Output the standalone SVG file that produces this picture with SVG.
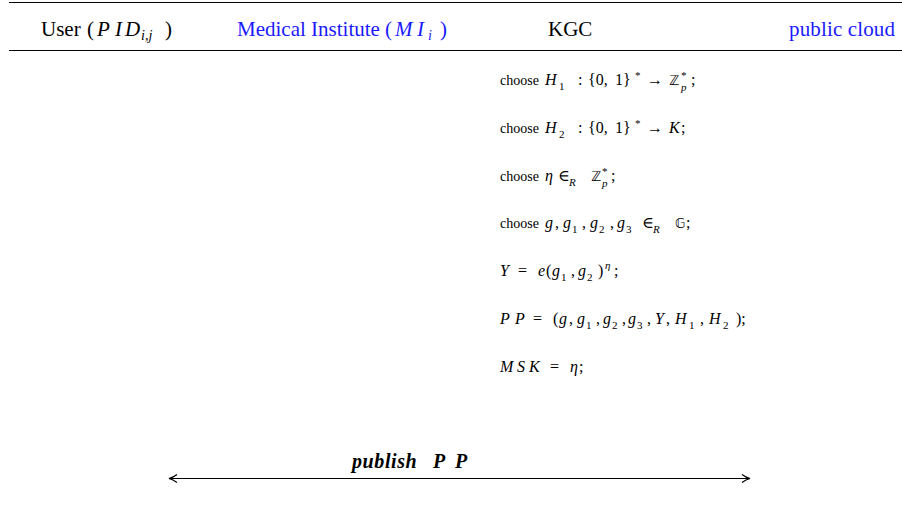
<svg xmlns="http://www.w3.org/2000/svg" width="902" height="531" viewBox="0 0 902 531">
  <style>
    text { font-family: "Liberation Serif", "Times New Roman", Times, "DejaVu Serif", serif; fill: #000; }
    .hd { font-size: 21px; }
    .blue { fill: #1a1aff; }
    .it { font-style: italic; }
    .t { font-size: 14px; }
    .m { font-size: 16px; font-style: italic; }
    .r { font-style: normal; }
    .sub { font-size: 11px; }
    .bb { font-family: "DejaVu Sans", "DejaVu Serif", serif; font-style: normal; font-size: 13.5px; }
    .rule { stroke: #000; stroke-width: 1.2; fill: none; }
    .conn { stroke: #000; stroke-width: 1.2; fill: none; }
    .lbl { font-size: 20px; font-style: italic; font-weight: bold; }
  </style>
  <defs>
    <marker id="chev" viewBox="0 0 10 10" refX="9" refY="5" markerWidth="10" markerHeight="10" markerUnits="userSpaceOnUse" orient="auto-start-reverse">
      <path d="M1,1 Q5,4 9,5 Q5,6 1,9" fill="none" stroke="#000" stroke-width="1.2"/>
    </marker>
  </defs>
  <rect width="902" height="531" fill="#fff"/>

  <!-- table rules -->
  <line class="rule" x1="9" y1="2.5" x2="902" y2="2.5"/>
  <line class="rule" x1="9" y1="50.5" x2="902" y2="50.5"/>

  <!-- column headers -->
  <g id="user">
    <text class="hd" y="36"><tspan x="41">User</tspan><tspan x="87">(</tspan><tspan class="it" x="97">P</tspan><tspan class="it" x="115">I</tspan><tspan class="it" x="125">D</tspan><tspan class="it" x="141" y="40" font-size="14px">i,j</tspan><tspan x="165" y="36">)</tspan></text>
  </g>
  <g id="medical-institute">
    <text class="hd blue" y="36"><tspan x="237">Medical Institute</tspan><tspan x="385">(</tspan><tspan class="it" x="395">M</tspan><tspan class="it" x="417">I</tspan><tspan class="it" x="428" y="40" font-size="14px">i</tspan><tspan x="440" y="36">)</tspan></text>
  </g>
  <g id="kgc">
    <text class="hd" x="548" y="36">KGC</text>

    <!-- setup steps -->
    <text class="t" x="500" y="85">choose</text>
    <text class="m" y="85"><tspan x="545">H</tspan><tspan class="r sub" x="559" y="90">1</tspan><tspan class="r" x="578" y="85">:</tspan><tspan class="r" x="588">{0,</tspan><tspan class="r" x="615">1}</tspan><tspan class="r sub" x="635" y="79">*</tspan><tspan class="r" x="647" y="85">→</tspan><tspan class="bb" x="669">ℤ</tspan><tspan class="r sub" x="681" y="79">*</tspan><tspan class="sub" x="681" y="91">p</tspan><tspan class="r" x="691" y="85">;</tspan></text>

    <text class="t" x="500" y="133">choose</text>
    <text class="m" y="133"><tspan x="545">H</tspan><tspan class="r sub" x="559" y="138">2</tspan><tspan class="r" x="578" y="133">:</tspan><tspan class="r" x="588">{0,</tspan><tspan class="r" x="615">1}</tspan><tspan class="r sub" x="635" y="127">*</tspan><tspan class="r" x="647" y="133">→</tspan><tspan x="669">K</tspan><tspan class="r" x="681">;</tspan></text>

    <text class="t" x="500" y="181">choose</text>
    <text class="m" y="181"><tspan x="545">η</tspan><tspan class="r" x="558">∈</tspan><tspan class="sub" x="569" y="186">R</tspan><tspan class="bb" x="591" y="181">ℤ</tspan><tspan class="r sub" x="602" y="175">*</tspan><tspan class="sub" x="602" y="187">p</tspan><tspan class="r" x="611" y="181">;</tspan></text>

    <text class="t" x="500" y="228">choose</text>
    <text class="m" y="228"><tspan x="545">g</tspan><tspan class="r" x="555">,</tspan><tspan x="563">g</tspan><tspan class="r sub" x="572" y="233">1</tspan><tspan class="r" x="582" y="228">,</tspan><tspan x="590">g</tspan><tspan class="r sub" x="599" y="233">2</tspan><tspan class="r" x="610" y="228">,</tspan><tspan x="617">g</tspan><tspan class="r sub" x="626" y="233">3</tspan><tspan class="r" x="642" y="228">∈</tspan><tspan class="sub" x="653" y="233">R</tspan><tspan class="bb" x="675" y="228">𝔾</tspan><tspan class="r" x="686">;</tspan></text>

    <text class="m" y="276"><tspan x="500">Y</tspan><tspan class="r" x="518">=</tspan><tspan x="538">e</tspan><tspan class="r" x="546">(</tspan><tspan x="552">g</tspan><tspan class="r sub" x="561" y="281">1</tspan><tspan class="r" x="571" y="276">,</tspan><tspan x="578">g</tspan><tspan class="r sub" x="587" y="281">2</tspan><tspan class="r" x="598" y="276">)</tspan><tspan class="sub" x="605" y="269">η</tspan><tspan class="r" x="614" y="276">;</tspan></text>

    <text class="m" y="324"><tspan x="500">P</tspan><tspan x="515">P</tspan><tspan class="r" x="533">=</tspan><tspan class="r" x="553">(</tspan><tspan x="559">g</tspan><tspan class="r" x="569">,</tspan><tspan x="577">g</tspan><tspan class="r sub" x="586" y="329">1</tspan><tspan class="r" x="596" y="324">,</tspan><tspan x="603">g</tspan><tspan class="r sub" x="612" y="329">2</tspan><tspan class="r" x="622" y="324">,</tspan><tspan x="628">g</tspan><tspan class="r sub" x="637" y="329">3</tspan><tspan class="r" x="647" y="324">,</tspan><tspan x="655">Y</tspan><tspan class="r" x="666">,</tspan><tspan x="675">H</tspan><tspan class="r sub" x="689" y="329">1</tspan><tspan class="r" x="700" y="324">,</tspan><tspan x="709">H</tspan><tspan class="r sub" x="723" y="329">2</tspan><tspan class="r" x="736" y="324">);</tspan></text>

    <text class="m" y="372"><tspan x="500">M</tspan><tspan x="517">S</tspan><tspan x="529">K</tspan><tspan class="r" x="550">=</tspan><tspan x="570">η</tspan><tspan class="r" x="579">;</tspan></text>
  </g>
  <g id="public-cloud">
    <text class="hd blue" x="789" y="36" textLength="106">public cloud</text>
  </g>

  <!-- broadcast of public parameters -->
  <g id="connectors">
    <line class="conn" x1="169" y1="478.5" x2="750" y2="478.5" marker-start="url(#chev)" marker-end="url(#chev)"/>
    <text class="lbl" y="468"><tspan x="352" letter-spacing="0.6">publish</tspan><tspan x="433">P</tspan><tspan x="455">P</tspan></text>
  </g>
</svg>
